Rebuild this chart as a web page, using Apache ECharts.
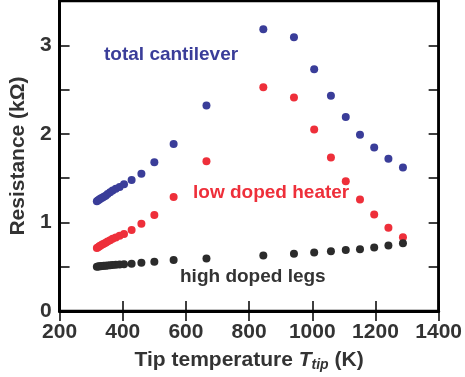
<!DOCTYPE html>
<html>
<head>
<meta charset="utf-8">
<script src="https://cdn.jsdelivr.net/npm/echarts@6/dist/echarts.min.js"></script>
<style>html,body{margin:0;padding:0;background:#fff}#c{width:465px;height:377px}</style>
</head>
<body>
<div id="c"></div>
<script>
const tipTemps = [318, 322, 326, 330, 335, 340, 346, 352, 360, 368, 378, 390, 404, 428, 459, 500, 561, 665, 845, 942, 1006, 1059, 1106, 1151, 1196, 1241, 1287];
const totalCantilever = [1.24, 1.25, 1.26, 1.27, 1.28, 1.29, 1.30, 1.32, 1.34, 1.36, 1.38, 1.40, 1.43, 1.48, 1.55, 1.68, 1.886, 2.32, 3.18, 3.09, 2.73, 2.43, 2.19, 1.99, 1.845, 1.72, 1.62];
const lowDopedHeater = [0.71, 0.72, 0.73, 0.74, 0.75, 0.76, 0.77, 0.785, 0.80, 0.815, 0.83, 0.85, 0.87, 0.914, 0.985, 1.085, 1.286, 1.69, 2.526, 2.41, 2.05, 1.733, 1.465, 1.26, 1.089, 0.94, 0.832];
const highDopedLegs = [0.50, 0.502, 0.504, 0.506, 0.508, 0.51, 0.512, 0.514, 0.516, 0.518, 0.521, 0.524, 0.528, 0.534, 0.545, 0.556, 0.575, 0.593, 0.627, 0.646, 0.66, 0.676, 0.69, 0.698, 0.716, 0.739, 0.765];
const xTicks = [200, 400, 600, 800, 1000, 1200, 1400];
const yTicks = [0, 1, 2, 3];

const pair = arr => tipTemps.map((t, i) => [t, arr[i]]);
const FONT = 'Liberation Sans, Arial, sans-serif';
const chart = echarts.init(document.getElementById('c'));
const tickStyle = {show: true, inside: true, length: 10, lineStyle: {color: '#000', width: 1.5}};
chart.setOption({
  animation: false,
  grid: {left: 56, right: 19, top: 1, bottom: 64, show: true, borderColor: '#000', borderWidth: 2.5, backgroundColor: 'transparent'},
  xAxis: [{
    type: 'value', min: 200, max: 1400, interval: 200, position: 'bottom',
    axisLine: {show: true, lineStyle: {color: '#000', width: 3}},
    axisTick: tickStyle,
    splitLine: {show: false},
    axisLabel: {color: '#333', fontSize: 21, fontWeight: 'bold', fontFamily: FONT, margin: 11,
      formatter: v => xTicks.includes(v) ? String(v) : ''},
    name: '{a|Tip temperature }{i|T}{s|tip}{a| (K)}',
    nameLocation: 'middle', nameGap: 37,
    nameTextStyle: {rich: {
      a: {color: '#333', fontSize: 21, fontWeight: 'bold', fontFamily: FONT},
      i: {color: '#333', fontSize: 21, fontWeight: 'bold', fontStyle: 'italic', fontFamily: FONT},
      s: {color: '#333', fontSize: 14, fontWeight: 'bold', fontStyle: 'italic', fontFamily: FONT, verticalAlign: 'bottom', padding: [10, 0, 0, 0]}
    }}
  }, {
    type: 'value', min: 200, max: 1400, interval: 200, position: 'top',
    axisLine: {show: true, lineStyle: {color: '#000', width: 2.5}},
    axisTick: tickStyle, axisLabel: {show: false}, splitLine: {show: false}
  }],
  yAxis: [{
    type: 'value', min: 0, max: 3.5, interval: 0.5, position: 'left',
    axisLine: {show: true, lineStyle: {color: '#000', width: 3}},
    axisTick: tickStyle, splitLine: {show: false},
    axisLabel: {color: '#333', fontSize: 21, fontWeight: 'bold', fontFamily: FONT, margin: 8,
      formatter: v => yTicks.includes(v) ? String(v) : ''},
    name: 'Resistance (kΩ)', nameLocation: 'middle', nameGap: 24, nameRotate: 90,
    nameTextStyle: {color: '#333', fontSize: 21, fontWeight: 'bold', fontFamily: FONT}
  }, {
    type: 'value', min: 0, max: 3.5, interval: 0.5, position: 'right',
    axisLine: {show: true, lineStyle: {color: '#000', width: 2.5}},
    axisTick: tickStyle, axisLabel: {show: false}, splitLine: {show: false}
  }],
  series: [
    {name: 'total cantilever', type: 'scatter', data: pair(totalCantilever), symbolSize: 8, itemStyle: {color: '#3a3d99', opacity: 1}},
    {name: 'low doped heater', type: 'scatter', data: pair(lowDopedHeater), symbolSize: 8, itemStyle: {color: '#ee2f3a', opacity: 1}},
    {name: 'high doped legs', type: 'scatter', data: pair(highDopedLegs), symbolSize: 8, itemStyle: {color: '#2b2b2b', opacity: 1}}
  ],
  graphic: [
    {type: 'text', left: 104, top: 45, style: {text: 'total cantilever', fill: '#3a3d99', font: 'bold 19px ' + FONT}},
    {type: 'text', left: 193, top: 183, style: {text: 'low doped heater', fill: '#ee2f3a', font: 'bold 19px ' + FONT}},
    {type: 'text', left: 180, top: 267, style: {text: 'high doped legs', fill: '#333', font: 'bold 19px ' + FONT}}
  ]
});
</script>
</body>
</html>
